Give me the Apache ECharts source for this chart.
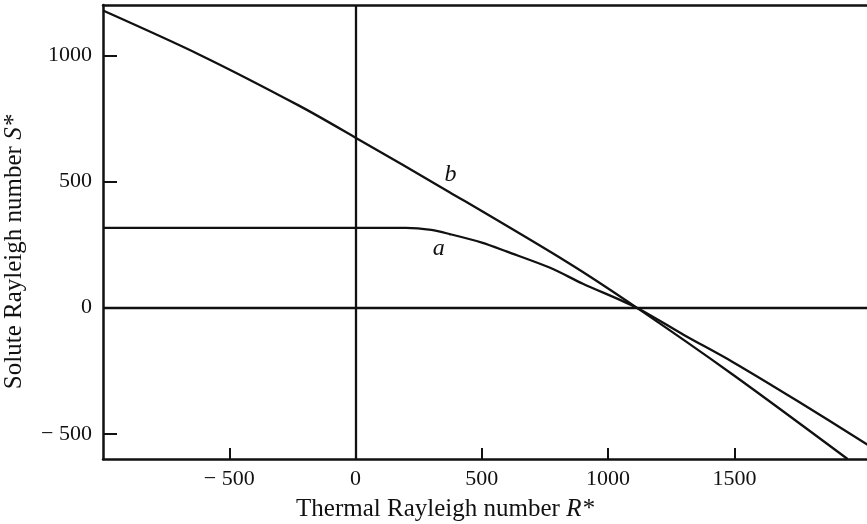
<!DOCTYPE html>
<html>
<head>
    <meta charset="UTF-8">
    <title>Solute vs thermal Rayleigh number</title>
    <script src="https://cdn.jsdelivr.net/npm/echarts@6/dist/echarts.min.js"></script>
    <style>
        html, body { margin: 0; padding: 0; background: #fff; }
        #main { width: 867px; height: 524px; }
    </style>
</head>
<body>
<div id="main"></div>
<script type="text/javascript">
    // curve a: flat, then bends down through the crossing
    var curveA = [
        [-1000, 316], [200, 316], [300, 308], [372, 292], [500, 258], [600, 222],
        [768, 159], [900, 95], [1113, 0], [1300, -108], [1493, -215], [1750, -370], [2030, -545]
    ];
    // curve b: near straight, slightly steepening
    var curveB = [
        [-1000, 1178], [-618, 1003], [-222, 800], [0, 674], [372, 458], [840, 179],
        [1113, 0], [1493, -265], [1948, -600]
    ];
    var xTicks = [-500, 0, 500, 1000, 1500];
    var yTicks = [-500, 0, 500, 1000];
    var labelA = [329, 235];
    var labelB = [376, 529];

    var ink = '#111';
    var serif = '"Liberation Serif", "DejaVu Serif", serif';

    function fmt(v) {
        return v < 0 ? '\u2212 ' + Math.abs(v) : String(v);
    }

    function curveLabel(txt, coord) {
        return {
            symbol: 'circle',
            symbolSize: 2,
            itemStyle: {color: 'rgba(0,0,0,0)'},
            label: {show: true, position: 'inside', formatter: txt, color: ink,
                fontFamily: serif, fontStyle: 'italic', fontSize: 24},
            data: [{coord: coord}]
        };
    }

    var myChart = echarts.init(document.getElementById('main'));
    var option = {
        animation: false,
        backgroundColor: '#fff',
        grid: {left: 103, right: 0, top: 5, bottom: 65, outerBoundsMode: 'none', containLabel: false},
        xAxis: [
            {
                type: 'value',
                min: -1000,
                max: 2025,
                interval: 500,
                name: 'Thermal Rayleigh number {i|R*}',
                nameLocation: 'middle',
                nameGap: 38,
                nameTextStyle: {
                    color: ink, fontFamily: serif, fontSize: 25, padding: [0, 80, 0, 0],
                    rich: {i: {fontStyle: 'italic', fontFamily: serif, fontSize: 25, color: ink}}
                },
                axisLine: {show: true, onZero: false, lineStyle: {color: ink, width: 2.5}},
                axisTick: {inside: true, length: 11, lineStyle: {color: ink, width: 2},
                    customValues: xTicks},
                axisLabel: {color: ink, fontFamily: serif, fontSize: 22, margin: 9,
                    customValues: xTicks, formatter: fmt},
                splitLine: {show: false}
            },
            {
                type: 'value',
                position: 'top',
                min: -1000,
                max: 2025,
                axisLine: {show: true, onZero: false, lineStyle: {color: ink, width: 2.5}},
                axisTick: {show: false},
                axisLabel: {show: false},
                splitLine: {show: false}
            }
        ],
        yAxis: {
            type: 'value',
            min: -600,
            max: 1200,
            name: 'Solute Rayleigh number {i|S*}',
            nameLocation: 'middle',
            nameGap: 76,
            nameTextStyle: {
                color: ink, fontFamily: serif, fontSize: 25, padding: [0, 40, 0, 0],
                rich: {i: {fontStyle: 'italic', fontFamily: serif, fontSize: 25, color: ink}}
            },
            axisLine: {show: true, onZero: false, lineStyle: {color: ink, width: 2.5}},
            axisTick: {inside: true, length: 14, lineStyle: {color: ink, width: 2},
                customValues: yTicks},
            axisLabel: {color: ink, fontFamily: serif, fontSize: 22, margin: 11,
                customValues: yTicks, formatter: fmt},
            splitLine: {show: false}
        },
        series: [
            {
                name: 'a',
                type: 'line',
                data: curveA,
                smooth: 0.3,
                showSymbol: false,
                lineStyle: {color: ink, width: 2.3},
                markPoint: curveLabel('a', labelA),
                markLine: {
                    symbol: 'none',
                    silent: true,
                    label: {show: false},
                    lineStyle: {color: ink, width: 2.3, type: 'solid'},
                    data: [{xAxis: 0}, {yAxis: 0}]
                }
            },
            {
                name: 'b',
                type: 'line',
                data: curveB,
                smooth: 0.3,
                showSymbol: false,
                lineStyle: {color: ink, width: 2.3},
                markPoint: curveLabel('b', labelB)
            }
        ]
    };
    myChart.setOption(option);
</script>
</body>
</html>
